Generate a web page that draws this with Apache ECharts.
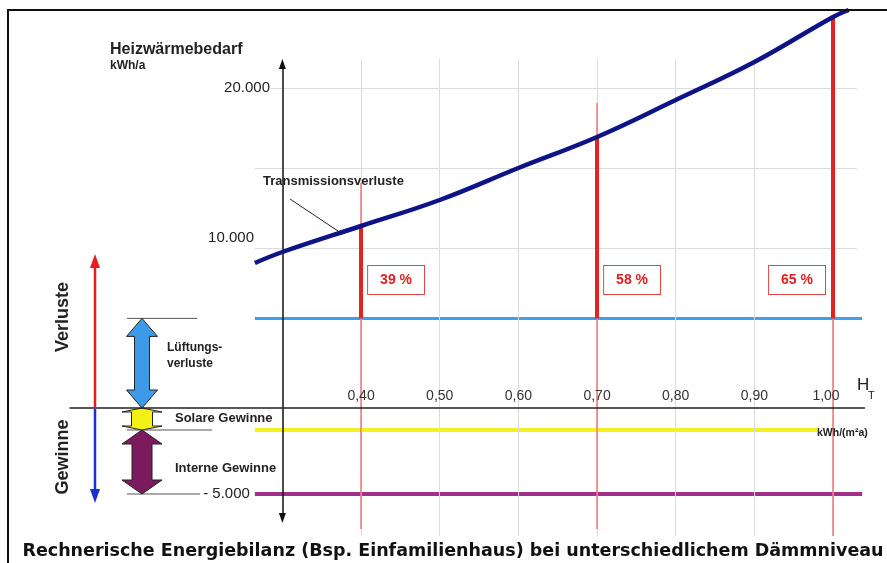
<!DOCTYPE html>
<html>
<head>
<meta charset="utf-8">
<script src="https://cdn.jsdelivr.net/npm/echarts@6/dist/echarts.min.js"></script>
<style>
html,body{margin:0;padding:0;background:#fff;}
#c{width:887px;height:563px;}
</style>
</head>
<body>
<div id="c"></div>
<script>
// ---------------- data ----------------
const hT = [0.265, 0.30, 0.40, 0.50, 0.60, 0.70, 0.80, 0.90, 1.00, 1.02];
const transmission = [9060, 9750, 11375, 13000, 15000, 16940, 19250, 21625, 24440, 24875];

const lineStart = 0.265;
const lineEnd = 1.037;
const yellowEnd = 0.98;
const lueftung = 5600;     // Lüftungsverluste level
const solar = -1375;       // Solare Gewinne level
const intern = -5375;      // Interne Gewinne level

const xTicks = [0.40, 0.50, 0.60, 0.70, 0.80, 0.90, 1.00];
const yTicks = [20000, 10000];
const yTickLabels = ['20.000', '10.000'];
const minusLabel = '- 5.000';

const gridX = [0.40, 0.50, 0.60, 0.70, 0.80, 0.90, 1.00];
const gridY = [10000, 15000, 20000];

const markerX = [0.40, 0.70, 1.00];
const markerTop = [11375, 16940, 24440];
const markerThinTop = [14060, 19060, 24440];
const markerThinBottom = [-7560, -7560, -8000];
const pctLabels = ['39 %', '58 %', '65 %'];

const fatData = [[0, lueftung], [0, solar], [solar, intern]];

// ---------------- layout / style constants ----------------
const FONT = "'Liberation Sans', Arial, sans-serif";
const X_MIN = 0.03, X_MAX = 1.04, Y_MIN = -8000, Y_MAX = 24875;
const Y_AXIS_X = 0.30;
const gridEnd = 1.03;
const gridTopV = 21810;
const pctY = 8000;

const fatStyles = [
  {fill: '#3d9ae8', hw: 31, sw: 15, hl: 18, tx1: 127, tx2: 197},
  {fill: '#f4f214', hw: 40, sw: 21, hl: 4,  tx1: 127, tx2: 212},
  {fill: '#7b1b5e', hw: 40, sw: 20, hl: 14, tx1: 127, tx2: 200}
];

function arrowRender(params, api) {
  const st = fatStyles[params.dataIndex];
  const yA = api.coord([0.5, api.value(0)])[1];
  const yB = api.coord([0.5, api.value(1)])[1];
  const top = Math.min(yA, yB), bot = Math.max(yA, yB);
  const cx = 142, hw = st.hw / 2, sw = st.sw / 2, hl = st.hl;
  const pts = [[cx, top], [cx + hw, top + hl], [cx + sw, top + hl], [cx + sw, bot - hl],
    [cx + hw, bot - hl], [cx, bot], [cx - hw, bot - hl], [cx - sw, bot - hl],
    [cx - sw, top + hl], [cx - hw, top + hl]];
  return {
    type: 'group',
    children: [
      {type: 'line', shape: {x1: st.tx1, y1: yB, x2: st.tx2, y2: yB}, style: {stroke: '#555', lineWidth: 1}},
      {type: 'polygon', shape: {points: pts}, style: {fill: st.fill, stroke: '#222', lineWidth: 1}}
    ]
  };
}

const mlBase = {silent: true, symbol: ['none', 'none'], animation: false, label: {show: false}, emphasis: {disabled: true}};

const chart = echarts.init(document.getElementById('c'), null, {renderer: 'canvas'});

const txt = (text, x, y, font, extra) => Object.assign({
  type: 'text', x: x, y: y, z: 100, silent: true,
  style: Object.assign({text: text, font: font, fill: '#222', textAlign: 'left', textVerticalAlign: 'middle'}, (extra && extra.style) || {})
}, extra && extra.rotation !== undefined ? {rotation: extra.rotation} : {});

chart.setOption({
  animation: false,
  backgroundColor: '#fff',
  grid: {left: 70, right: 22.5, top: 10, bottom: 27, containLabel: false, outerBoundsMode: 'none'},
  xAxis: {
    type: 'value', min: X_MIN, max: X_MAX, offset: -128, z: 10,
    axisLine: {show: true, onZero: false, lineStyle: {color: '#222', width: 1.5}},
    axisTick: {show: false},
    splitLine: {show: false},
    axisLabel: {
      inside: true, customValues: xTicks, margin: 5,
      formatter: v => (v === xTicks[xTicks.length - 1] ? '{r|' : '{n|') + v.toFixed(2).replace('.', ',') + '}',
      rich: {
        n: {color: '#333', fontSize: 14, fontFamily: FONT},
        r: {color: '#333', fontSize: 14, fontFamily: FONT, padding: [0, 14, 0, 0]}
      }
    }
  },
  yAxis: {
    type: 'value', min: Y_MIN, max: Y_MAX, offset: -213, z: 10,
    axisLine: {show: false}, axisTick: {show: false}, splitLine: {show: false},
    axisLabel: {
      customValues: yTicks, margin: 12,
      formatter: v => (v === 10000 ? '{b|' : '{a|') + yTickLabels[yTicks.indexOf(v)] + '}',
      rich: {
        a: {fontSize: 15, color: '#222', fontFamily: FONT, backgroundColor: '#fff', padding: [0, 1, 0, 0]},
        b: {fontSize: 15, color: '#222', fontFamily: FONT, padding: [0, 17, 20, 0]}
      }
    }
  },
  series: [
    {
      type: 'line', data: [], z: 1,
      markLine: Object.assign({}, mlBase, {
        lineStyle: {color: '#dcdcdc', width: 1, type: 'solid'},
        data: [
          ...gridY.map(v => [{coord: [lineStart, v]}, {coord: [gridEnd, v]}]),
          ...gridX.map(v => [{coord: [v, gridTopV]}, {coord: [v, Y_MIN]}])
        ]
      })
    },
    {
      type: 'line', data: [], z: 2,
      markLine: Object.assign({}, mlBase, {
        lineStyle: {color: '#ec747c', width: 1.5, type: 'solid'},
        data: markerX.map((x, i) => [{coord: [x, markerThinTop[i]]}, {coord: [x, markerThinBottom[i]]}])
      })
    },
    {
      name: 'Lüftungsverluste', type: 'line', z: 3, silent: true,
      data: [[lineStart, lueftung], [lineEnd, lueftung]],
      showSymbol: false, lineStyle: {color: '#3f9fea', width: 3}
    },
    {
      name: 'Solare Gewinne', type: 'line', z: 3, silent: true,
      data: [[lineStart, solar], [yellowEnd, solar]],
      showSymbol: false, lineStyle: {color: '#f2f21e', width: 4}
    },
    {
      name: 'Interne Gewinne', type: 'line', z: 3, silent: true,
      data: [
        {value: [lineStart, intern], label: {show: true, position: 'left', distance: 5, formatter: minusLabel, fontSize: 15, color: '#222', fontFamily: FONT}},
        [lineEnd, intern]
      ],
      showSymbol: true, symbol: 'circle', symbolSize: 0,
      lineStyle: {color: '#a0308c', width: 4}
    },
    {
      type: 'line', data: [], z: 4,
      markLine: Object.assign({}, mlBase, {
        lineStyle: {color: '#e3241e', width: 4, type: 'solid'},
        data: markerX.map((x, i) => [{coord: [x, lueftung]}, {coord: [x, markerTop[i]]}])
      })
    },
    {
      name: 'Transmissionsverluste', type: 'line', z: 5, silent: true,
      data: hT.map((x, i) => [x, transmission[i]]),
      smooth: 0.4, showSymbol: false,
      lineStyle: {color: '#0d1488', width: 4.5}
    },
    {
      type: 'line', data: [], z: 6,
      markLine: Object.assign({}, mlBase, {
        symbol: ['triangle', 'triangle'], symbolSize: [7, 10],
        lineStyle: {color: '#111', width: 1.5, type: 'solid'},
        itemStyle: {color: '#111'},
        data: [[{coord: [Y_AXIS_X, -6875]}, {coord: [Y_AXIS_X, 21500]}]]
      })
    },
    {
      type: 'line', data: [], z: 7,
      markPoint: {
        silent: true, animation: false, symbol: 'rect', symbolSize: 0,
        itemStyle: {color: 'rgba(0,0,0,0)'},
        label: {
          show: true, position: 'inside', formatter: p => p.name,
          color: '#e02020', fontWeight: 'bold', fontSize: 14, fontFamily: FONT,
          backgroundColor: '#fff', borderColor: '#e04848', borderWidth: 1,
          padding: [7, 12, 7, 12]
        },
        data: markerX.map((x, i) => ({
          name: pctLabels[i], coord: [x, pctY],
          label: {offset: [i === markerX.length - 1 ? -36 : 35, 0]}
        }))
      }
    },
    {
      type: 'custom', z: 6, silent: true,
      renderItem: arrowRender,
      data: fatData
    }
  ],
  graphic: [
    // frame
    {type: 'rect', z: 100, silent: true, shape: {x: 8, y: 10, width: 1000, height: 1000},
     style: {fill: 'rgba(0,0,0,0)', stroke: '#111', lineWidth: 2}},
    // Verluste / Gewinne arrows
    {type: 'line', z: 50, silent: true, shape: {x1: 95, y1: 407, x2: 95, y2: 266}, style: {stroke: '#e3201b', lineWidth: 2.5}},
    {type: 'polygon', z: 50, silent: true, shape: {points: [[95, 254], [90, 268], [100, 268]]}, style: {fill: '#e3201b'}},
    {type: 'line', z: 50, silent: true, shape: {x1: 95, y1: 409, x2: 95, y2: 490}, style: {stroke: '#1c2fd0', lineWidth: 2.5}},
    {type: 'polygon', z: 50, silent: true, shape: {points: [[95, 503], [90, 489], [100, 489]]}, style: {fill: '#1c2fd0'}},
    // Transmissionsverluste leader
    {type: 'line', z: 50, silent: true, shape: {x1: 290, y1: 199, x2: 338, y2: 231}, style: {stroke: '#222', lineWidth: 1}},
    // texts
    txt('Heizwärmebedarf', 110, 50, 'bold 16px ' + FONT),
    txt('kWh/a', 110, 66, 'bold 12px ' + FONT),
    txt('Transmissionsverluste', 263, 181, 'bold 13px ' + FONT),
    txt('Verluste', 63, 317, 'bold 18px ' + FONT, {rotation: Math.PI / 2, style: {textAlign: 'center'}}),
    txt('Gewinne', 63, 457, 'bold 18px ' + FONT, {rotation: Math.PI / 2, style: {textAlign: 'center'}}),
    txt('Lüftungs-', 167, 348, 'bold 12px ' + FONT),
    txt('verluste', 167, 364, 'bold 12px ' + FONT),
    txt('Solare Gewinne', 175, 418, 'bold 13px ' + FONT),
    txt('Interne Gewinne', 175, 468, 'bold 13px ' + FONT),
    txt('H', 857, 385, '17px ' + FONT),
    txt('T', 868, 396, '11px ' + FONT),
    txt('kWh/(m²a)', 817, 433, 'bold 10.5px ' + FONT),
    txt('Rechnerische Energiebilanz (Bsp. Einfamilienhaus) bei unterschiedlichem Dämmniveau', 453, 551,
        'bold 17.5px "DejaVu Sans", sans-serif', {style: {textAlign: 'center', fill: '#111'}})
  ]
});
</script>
</body>
</html>
